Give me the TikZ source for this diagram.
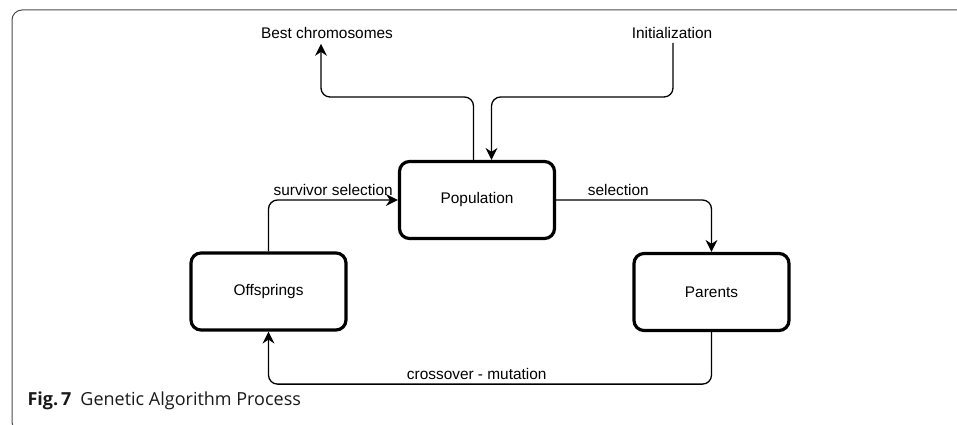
\documentclass[tikz,border=0pt]{standalone}
\usepackage{fontspec}
\setmainfont{Liberation Sans}
\newfontfamily\capfont{Open Sans}
\usetikzlibrary{positioning, arrows.meta}

\begin{document}
\begin{tikzpicture}[
		x=1pt, y=-1pt,
		font=\fontsize{15.4}{18}\selectfont,
		stage/.style={draw, line width=3.2pt, rounded corners=10pt, minimum width=155pt, minimum height=77pt, align=center},
		flow/.style={-{Stealth[length=12pt,width=12pt,inset=4pt]}, line width=1.3pt, rounded corners=9pt},
		tag/.style={inner sep=2pt}
		]
		
		\useasboundingbox (0,0) rectangle (957,425);
		
		% frame of the figure
		\draw[black!70, line width=1pt, rounded corners=10pt] (12,10) rectangle (990,432);
		
		% stages of the process
		\node[stage] (population) at (477,200) {Population};
		\node[stage] (offsprings) at (268.5,291.5) {Offsprings};
		\node[stage] (parents) at (711.5,292) {Parents};
		
		% outer labels
		\node[tag] (best) at (327,33) {Best chromosomes};
		\node[tag] (init) at (672,33) {Initialization};
		\coordinate (split) at (477,97);
		
		% connectors
		\draw[flow] ([xshift=-3.5pt]population.north) -- ([xshift=-3.5pt]split) -| ([xshift=-6pt,yshift=-3pt]best.south);
		\draw[flow] ([xshift=1pt,yshift=-2pt]init.south) |- ([xshift=14.5pt]split) -- ([xshift=14.5pt]population.north);
		\draw[flow] (offsprings.north) |- (population.west) node[pos=0.75, above] {survivor selection};
		\draw[flow] (population.east) -| (parents.north) node[pos=0.2, above] {selection};
		\draw[flow] (parents.south) -- ++(0,52) -| (offsprings.south) node[pos=0.265, above] {crossover - mutation};
		
		% caption
		\node[anchor=base west, font=\capfont\fontsize{18}{21}\selectfont, text=black!90] (caption) at (24,405) {\textbf{Fig.\,7}\hspace{9pt}Genetic Algorithm Process};
		
	\end{tikzpicture}
\end{document}
